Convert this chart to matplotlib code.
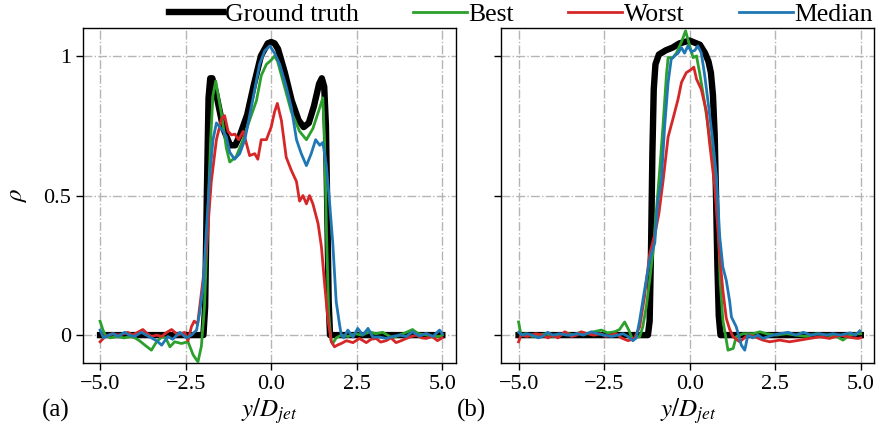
import matplotlib
matplotlib.use("Agg")
import matplotlib.pyplot as plt

# ---- data (y/D_jet, rho) ----
# (a) left panel
gt_a_x = [-5.0, -1.98, -1.93, -1.88, -1.83, -1.78, -1.72, -1.6, -1.4, -1.2, -1.05, -0.9, -0.7, -0.5, -0.3, -0.1,
          0.0, 0.1, 0.2, 0.4, 0.6, 0.8, 0.95, 1.1, 1.25, 1.4, 1.48, 1.55, 1.6, 1.64, 1.68, 1.72, 5.0]
gt_a_y = [0.0, 0.0, 0.1, 0.5, 0.85, 0.92, 0.92, 0.86, 0.74, 0.68, 0.68, 0.72, 0.79, 0.90, 1.00, 1.045,
          1.05, 1.045, 1.025, 0.94, 0.84, 0.77, 0.745, 0.76, 0.82, 0.90, 0.92, 0.89, 0.75, 0.45, 0.12, 0.0, 0.0]

best_a_x = [-5.0, -4.92, -4.85, -4.7, -4.5, -4.3, -4.1, -3.98, -3.85, -3.69, -3.5, -3.35, -3.2, -3.08, -2.96,
            -2.82, -2.62, -2.43, -2.28, -2.14, -2.04, -1.95, -1.85, -1.77, -1.7, -1.62, -1.55, -1.45, -1.31,
            -1.21, -1.02, -0.82, -0.63, -0.43, -0.29, -0.14, 0.0, 0.1, 0.19, 0.39, 0.59, 0.83, 1.03, 1.22,
            1.42, 1.51, 1.56, 1.62, 1.68, 1.75, 1.8, 1.9, 2.05, 2.25, 2.45, 2.65, 2.88, 3.05, 3.26, 3.4,
            3.55, 3.75, 3.95, 4.13, 4.3, 4.54, 4.72, 4.92, 5.0]
best_a_y = [0.05, 0.02, 0.0, -0.01, -0.005, -0.01, -0.005, -0.01, -0.02, -0.036, -0.054, -0.024, -0.007,
            -0.01, -0.042, -0.024, -0.03, -0.024, -0.071, -0.096, -0.04, 0.1, 0.42, 0.7, 0.86, 0.91, 0.86,
            0.79, 0.67, 0.62, 0.64, 0.70, 0.77, 0.84, 0.93, 0.97, 0.985, 1.0, 0.98, 0.89, 0.80, 0.73, 0.70,
            0.74, 0.815, 0.85, 0.7, 0.35, 0.08, -0.02, -0.03, -0.01, 0.0, -0.005, 0.005, 0.0, 0.012, 0.005,
            0.01, 0.0, -0.01, 0.0, 0.01, 0.02, 0.005, 0.0, -0.005, -0.005, 0.0]

worst_a_x = [-5.0, -4.85, -4.65, -4.48, -4.3, -4.19, -4.05, -3.9, -3.75, -3.62, -3.5, -3.35, -3.2, -3.05,
             -2.91, -2.72, -2.53, -2.43, -2.33, -2.25, -2.15, -2.09, -1.99, -1.89, -1.75, -1.6, -1.45, -1.36,
             -1.26, -1.16, -1.06, -0.95, -0.82, -0.72, -0.63, -0.48, -0.39, -0.29, -0.14, 0.0, 0.1, 0.18,
             0.3, 0.44, 0.59, 0.74, 0.83, 0.93, 1.03, 1.12, 1.22, 1.37, 1.47, 1.56, 1.66, 1.76, 1.85, 1.95,
             2.05, 2.2, 2.39, 2.58, 2.78, 2.92, 3.07, 3.2, 3.36, 3.5, 3.65, 3.8, 3.95, 4.1, 4.24, 4.4, 4.53,
             4.7, 4.86, 5.0]
worst_a_y = [-0.024, -0.005, 0.005, 0.0, 0.005, 0.01, 0.0, 0.01, 0.02, 0.005, -0.005, 0.0, -0.005, 0.01,
             0.02, 0.0, 0.01, -0.02, 0.03, 0.05, 0.04, 0.10, 0.2, 0.315, 0.55, 0.70, 0.775, 0.786, 0.73,
             0.717, 0.72, 0.70, 0.73, 0.685, 0.643, 0.65, 0.63, 0.70, 0.70, 0.745, 0.80, 0.83, 0.768, 0.637,
             0.59, 0.55, 0.48, 0.50, 0.47, 0.50, 0.47, 0.40, 0.315, 0.185, 0.054, -0.024, -0.042, -0.035,
             -0.03, -0.02, -0.027, -0.012, -0.027, -0.015, -0.012, -0.025, -0.02, -0.01, -0.027, -0.02,
             -0.012, -0.005, 0.0, -0.01, -0.012, -0.005, -0.02, -0.01]

median_a_x = [-5.0, -4.9, -4.75, -4.6, -4.48, -4.28, -4.15, -4.0, -3.79, -3.65, -3.5, -3.35, -3.2, -3.02,
              -2.88, -2.67, -2.48, -2.33, -2.18, -2.09, -1.99, -1.9, -1.8, -1.7, -1.6, -1.5, -1.4, -1.31,
              -1.21, -1.07, -0.92, -0.77, -0.63, -0.48, -0.34, -0.19, -0.04, 0.1, 0.25, 0.44, 0.59, 0.74,
              0.88, 1.03, 1.17, 1.3, 1.42, 1.51, 1.61, 1.71, 1.8, 1.9, 2.0, 2.05, 2.12, 2.24, 2.39, 2.53,
              2.68, 2.83, 2.97, 3.17, 3.36, 3.55, 3.75, 3.95, 4.13, 4.33, 4.53, 4.73, 4.92, 5.0]
median_a_y = [0.018, -0.01, 0.0, 0.005, -0.005, 0.01, 0.0, -0.005, 0.01, 0.0, -0.01, -0.02, -0.036, -0.005,
              -0.015, 0.01, -0.01, 0.0, 0.018, 0.08, 0.17, 0.36, 0.56, 0.70, 0.76, 0.745, 0.73, 0.71, 0.655,
              0.63, 0.65, 0.70, 0.786, 0.88, 0.97, 1.018, 1.036, 1.01, 0.97, 0.89, 0.815, 0.70, 0.65, 0.607,
              0.65, 0.70, 0.68, 0.69, 0.61, 0.47, 0.33, 0.12, 0.036, 0.0, -0.01, 0.018, -0.007, 0.024, 0.0,
              0.024, -0.007, -0.007, -0.012, -0.005, 0.0, -0.005, 0.012, -0.003, 0.006, -0.005, 0.018, 0.005]

# (b) right panel
gt_b_x = [-5.0, -1.22, -1.17, -1.13, -1.09, -1.05, -1.0, -0.9, -0.7, -0.5, -0.3, 0.0, 0.3, 0.45, 0.55, 0.62,
          0.68, 0.73, 0.77, 0.81, 0.85, 0.9, 5.0]
gt_b_y = [0.0, 0.0, 0.05, 0.3, 0.65, 0.88, 0.97, 1.005, 1.02, 1.03, 1.045, 1.055, 1.04, 1.01, 0.98, 0.94,
          0.86, 0.72, 0.5, 0.25, 0.07, 0.0, 0.0]

best_b_x = [-5.0, -4.93, -4.8, -4.6, -4.4, -4.2, -4.0, -3.8, -3.6, -3.4, -3.2, -3.0, -2.8, -2.58, -2.4,
            -2.19, -2.05, -1.9, -1.78, -1.66, -1.55, -1.46, -1.37, -1.27, -1.17, -1.07, -0.97, -0.87, -0.78,
            -0.68, -0.63, -0.49, -0.39, -0.24, -0.12, 0.0, 0.1, 0.2, 0.29, 0.44, 0.58, 0.73, 0.83, 0.89,
            0.97, 1.07, 1.12, 1.27, 1.36, 1.56, 1.85, 2.05, 2.24, 2.53, 2.83, 3.1, 3.41, 3.7, 4.0, 4.29,
            4.48, 4.68, 4.87, 5.0]
best_b_y = [0.047, 0.0, 0.005, -0.005, 0.0, 0.005, -0.005, 0.0, 0.008, 0.0, 0.01, 0.005, 0.012, 0.018,
            0.008, 0.012, 0.02, 0.047, 0.018, -0.018, -0.006, -0.006, 0.03, 0.10, 0.196, 0.30, 0.45, 0.6,
            0.75, 0.93, 0.994, 0.994, 1.01, 1.05, 1.09, 1.036, 0.994, 1.0, 0.94, 0.83, 0.71, 0.57, 0.43,
            0.196, 0.054, -0.018, -0.054, -0.048, -0.006, 0.005, 0.005, 0.012, 0.005, 0.0, 0.005, 0.0,
            -0.005, 0.005, 0.0, -0.005, -0.018, 0.0, 0.005, 0.005]

worst_b_x = [-5.0, -4.93, -4.75, -4.5, -4.3, -4.14, -4.0, -3.85, -3.65, -3.45, -3.3, -3.17, -3.0, -2.8,
             -2.6, -2.45, -2.29, -2.15, -2.0, -1.8, -1.75, -1.61, -1.46, -1.32, -1.17, -1.02, -0.9, -0.78,
             -0.63, -0.49, -0.34, -0.24, -0.1, 0.05, 0.12, 0.2, 0.34, 0.49, 0.58, 0.73, 0.88, 0.97, 1.07,
             1.17, 1.27, 1.46, 1.7, 1.9, 2.14, 2.34, 2.63, 2.92, 3.22, 3.51, 3.8, 4.09, 4.39, 4.68, 4.91, 5.0]
worst_b_y = [-0.024, 0.0, -0.005, 0.005, 0.0, -0.01, 0.0, -0.01, 0.012, -0.005, 0.0, 0.012, 0.005, 0.0,
             0.005, -0.005, 0.0, 0.005, -0.01, -0.02, -0.018, -0.01, 0.03, 0.137, 0.29, 0.36, 0.435, 0.55,
             0.71, 0.774, 0.845, 0.905, 0.94, 0.952, 0.96, 0.917, 0.88, 0.80, 0.69, 0.536, 0.28, 0.16, 0.06,
             0.02, -0.006, -0.024, 0.0, -0.006, -0.018, -0.024, -0.018, -0.024, -0.018, -0.012, -0.006,
             -0.012, 0.0, -0.008, -0.012, -0.01]

median_b_x = [-5.0, -4.9, -4.75, -4.6, -4.43, -4.3, -4.15, -4.0, -3.8, -3.6, -3.46, -3.3, -3.1, -2.87, -2.7,
              -2.5, -2.29, -2.1, -1.95, -1.8, -1.66, -1.56, -1.46, -1.32, -1.17, -1.02, -0.93, -0.83, -0.73,
              -0.63, -0.54, -0.44, -0.34, -0.24, -0.15, -0.05, 0.05, 0.15, 0.24, 0.34, 0.44, 0.54, 0.68, 0.78,
              0.88, 0.97, 1.07, 1.17, 1.22, 1.36, 1.51, 1.61, 1.7, 1.84, 2.0, 2.14, 2.3, 2.45, 2.63, 2.88,
              3.1, 3.32, 3.55, 3.8, 4.0, 4.19, 4.4, 4.68, 4.85, 4.97]
median_b_y = [0.01, 0.0, 0.005, 0.0, -0.01, -0.005, 0.01, 0.0, 0.005, 0.0, 0.0, 0.005, 0.0, 0.012, 0.005, 0.0,
              -0.005, 0.0, 0.005, -0.005, -0.02, -0.01, 0.054, 0.16, 0.27, 0.33, 0.48, 0.55, 0.75, 0.905,
              0.988, 1.0, 1.01, 1.03, 1.01, 1.036, 1.015, 1.02, 1.036, 1.01, 0.93, 0.833, 0.69, 0.57, 0.35,
              0.244, 0.196, 0.12, 0.065, 0.03, -0.036, -0.054, 0.0, -0.01, 0.0, -0.012, -0.005, 0.0, 0.005,
              0.01, 0.0, 0.01, 0.0, 0.005, 0.0, 0.005, 0.0, 0.008, 0.0, 0.015]

labels = ["Ground truth", "Best", "Worst", "Median"]
y_ticks = [0, 0.5, 1]
y_ticklabels = ["0", "0.5", "1"]
x_ticks = [-5.0, -2.5, 0.0, 2.5, 5.0]

plt.rcParams.update({
    "font.family": ["Liberation Serif", "DejaVu Serif"],
    "mathtext.fontset": "stix",
    "font.size": 16,
})

fig = plt.figure(figsize=(8.77, 4.36), dpi=100)
ax_a = fig.add_axes([0.0946, 0.1674, 0.4253, 0.7683])
ax_b = fig.add_axes([0.5718, 0.1674, 0.4253, 0.7683])

panels = [
    (ax_a, gt_a_x, gt_a_y, best_a_x, best_a_y, worst_a_x, worst_a_y, median_a_x, median_a_y),
    (ax_b, gt_b_x, gt_b_y, best_b_x, best_b_y, worst_b_x, worst_b_y, median_b_x, median_b_y),
]

handles = []
for ax, gx, gy, bx, by, wx, wy, mx, my in panels:
    h0, = ax.plot(gx, gy, color="black", lw=4.6, solid_joinstyle="round", zorder=2)
    h1, = ax.plot(bx, by, color="#2ca02c", lw=2.0, zorder=3)
    h2, = ax.plot(wx, wy, color="#d62728", lw=2.0, zorder=4)
    h3, = ax.plot(mx, my, color="#1f77b4", lw=2.0, zorder=5)
    handles = [h0, h1, h2, h3]

    ax.set_xlim(-5.5, 5.4)
    ax.set_ylim(-0.1, 1.1)
    ax.set_xticks(x_ticks)
    ax.set_yticks(y_ticks)
    ax.grid(True, color="#b5b5b5", linestyle="-.", linewidth=1.0)
    ax.set_axisbelow(True)
    ax.tick_params(direction="out", length=5, width=1, labelsize=16)
    for s in ax.spines.values():
        s.set_linewidth(1.0)
    ax.set_xlabel(r"$y/D_{jet}$", fontsize=18, labelpad=2)

ax_a.set_yticklabels(y_ticklabels)
ax_b.set_yticklabels([])
ax_a.set_ylabel(r"$\rho$", fontsize=18, labelpad=10)

fig.text(0.063, 0.045, "(a)", fontsize=18, ha="center")
fig.text(0.538, 0.045, "(b)", fontsize=18, ha="center")

fig.legend(handles, labels, loc="upper center", bbox_to_anchor=(0.594, 1.035), ncol=4,
           frameon=False, fontsize=18.5, handlelength=2.1, handletextpad=0.05,
           columnspacing=2.12, borderpad=0.2)

fig.savefig("out.png", dpi=100)
